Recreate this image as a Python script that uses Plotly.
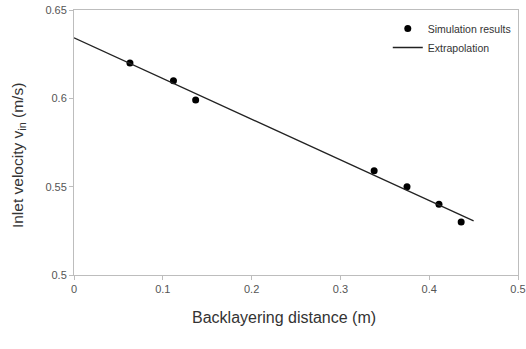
import plotly.graph_objects as go

sim_x = [0.063, 0.112, 0.137, 0.338, 0.375, 0.411, 0.436]
sim_y = [0.620, 0.610, 0.599, 0.559, 0.550, 0.540, 0.530]

fit_x = [0.0, 0.45]
fit_y = [0.6343, 0.5306]

x_ticks = [0, 0.1, 0.2, 0.3, 0.4, 0.5]
x_tick_labels = ["0", "0.1", "0.2", "0.3", "0.4", "0.5"]
y_ticks = [0.5, 0.55, 0.6, 0.65]
y_tick_labels = ["0.5", "0.55", "0.6", "0.65"]

FONT = "Liberation Sans, Arial"

fig = go.Figure()
fig.add_trace(go.Scatter(x=sim_x, y=sim_y, mode="markers", name="Simulation results",
                         marker=dict(color="black", size=7)))
fig.add_trace(go.Scatter(x=fit_x, y=fit_y, mode="lines", name="Extrapolation",
                         line=dict(color="#222", width=1.3)))

axis_common = dict(showgrid=False, zeroline=False, showline=True, linecolor="#bdbdbd",
                   linewidth=1, ticks="outside", ticklen=4, tickcolor="#bdbdbd",
                   tickfont=dict(family=FONT, size=11, color="#555"),
                   mirror=True, automargin=False)

fig.update_layout(
    width=526, height=349,
    margin=dict(l=74, r=8, t=10, b=74),
    paper_bgcolor="white", plot_bgcolor="white",
    font=dict(family=FONT, color="#333"),
    xaxis=dict(range=[0, 0.5], tickvals=x_ticks, ticktext=x_tick_labels, **axis_common),
    yaxis=dict(range=[0.5, 0.65], tickvals=y_ticks, ticktext=y_tick_labels, **axis_common),
    legend=dict(x=0.995, y=0.985, xanchor="right", yanchor="top",
                font=dict(family=FONT, size=10.5, color="#333"), bgcolor="rgba(0,0,0,0)",
                itemwidth=30, tracegroupgap=0),
    showlegend=True,
    annotations=[
        dict(text="Backlayering distance (m)", xref="paper", yref="paper",
             x=0.473, y=-0.162, xanchor="center", yanchor="middle", showarrow=False,
             font=dict(family=FONT, size=16, color="#333")),
        dict(text="Inlet velocity v<sub>in</sub> (m/s)", xref="paper", yref="paper",
             x=-0.126, y=0.449, xanchor="center", yanchor="middle", showarrow=False,
             textangle=-90, font=dict(family=FONT, size=15.5, color="#333")),
    ],
)

fig.write_html("out.html",
               config={"displayModeBar": False},
               post_script="document.body.style.margin='0';document.body.style.padding='0';")
